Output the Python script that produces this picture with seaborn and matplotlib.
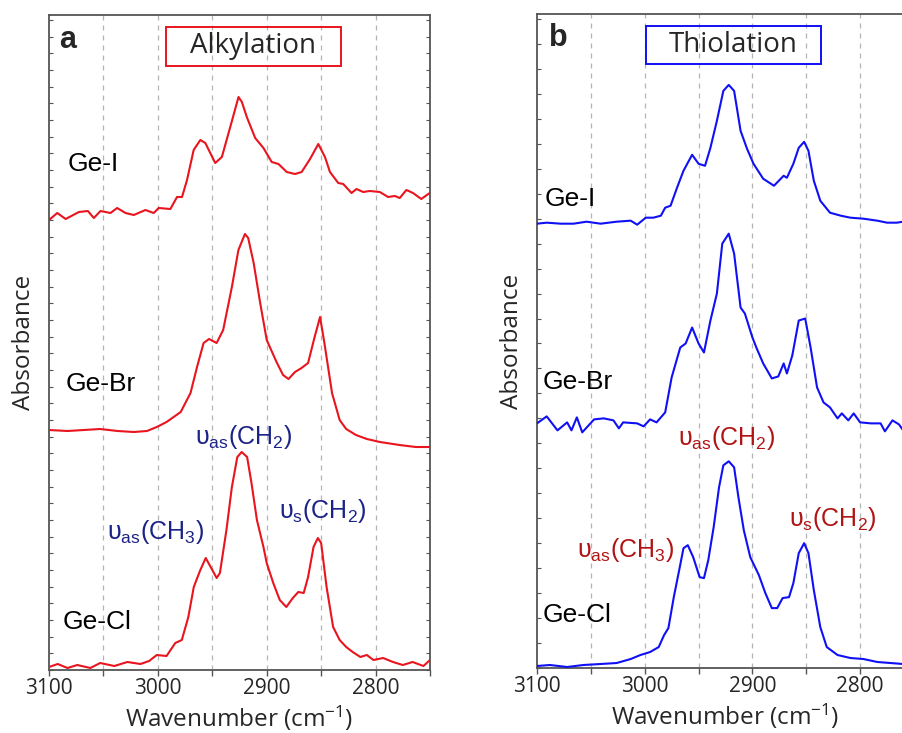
import numpy as np
import pandas as pd
import matplotlib
matplotlib.use("Agg")
import matplotlib.pyplot as plt
from matplotlib.ticker import MultipleLocator, NullFormatter
from matplotlib.patches import Rectangle
import seaborn as sns

# ---------------- data ----------------
# Panel a (alkylation)
a_gei_wn = [3100, 3092.4, 3084.7, 3072.5, 3064.3, 3058.8, 3052.7, 3043.5, 3037.4, 3029.7,
            3022.1, 3011.4, 3003.8, 2999.2, 2988.5, 2982.4, 2977.8, 2973.2, 2967.1, 2961.0,
            2956.4, 2947.3, 2941.2, 2933.5, 2925.9, 2922.8, 2918.3, 2910.6, 2903.0, 2895.4,
            2889.2, 2881.6, 2874.0, 2867.9, 2860.2, 2852.6, 2846.5, 2841.9, 2834.3, 2829.7,
            2822.1, 2817.5, 2811.4, 2805.3, 2796.1, 2788.5, 2782.3, 2777.8, 2771.7, 2765.6,
            2758.0, 2750.3]
a_gei_abs = [4.50, 4.57, 4.51, 4.58, 4.59, 4.52, 4.59, 4.57, 4.62, 4.57,
             4.55, 4.60, 4.57, 4.62, 4.61, 4.73, 4.73, 4.90, 5.20, 5.30,
             5.27, 5.07, 5.13, 5.43, 5.73, 5.68, 5.53, 5.32, 5.22, 5.08,
             5.06, 4.98, 4.96, 4.98, 5.11, 5.26, 5.13, 4.98, 4.87, 4.86,
             4.77, 4.81, 4.78, 4.79, 4.78, 4.73, 4.74, 4.72, 4.80, 4.77,
             4.71, 4.77]

a_gebr_wn = [3100, 3083, 3068, 3053, 3037, 3022, 3010, 3001, 2992, 2979,
             2970, 2964, 2958, 2953, 2946, 2940, 2932, 2926, 2920, 2917,
             2912, 2906, 2900, 2891, 2885, 2880, 2874, 2868, 2862, 2856,
             2851, 2847, 2840, 2833, 2827, 2818, 2808, 2796, 2778, 2763, 2750]
a_gebr_abs = [2.40, 2.39, 2.40, 2.41, 2.39, 2.38, 2.39, 2.43, 2.48, 2.58,
              2.77, 3.03, 3.27, 3.31, 3.27, 3.40, 3.83, 4.20, 4.36, 4.32,
              4.07, 3.67, 3.30, 3.08, 2.95, 2.91, 2.98, 3.02, 3.07, 3.33,
              3.53, 3.27, 2.77, 2.50, 2.41, 2.35, 2.31, 2.28, 2.25, 2.23, 2.23]

a_gecl_wn = [3100, 3092, 3083, 3074, 3062, 3053, 3040, 3028, 3016, 3008,
             3001, 2992, 2984, 2978, 2972, 2967, 2961, 2956, 2950, 2946,
             2943, 2937, 2932, 2927, 2923, 2918, 2914, 2909, 2903, 2900,
             2894, 2888, 2882, 2876, 2871, 2866, 2862, 2857, 2853, 2850,
             2845, 2839, 2833, 2827, 2821, 2814, 2808, 2802, 2793, 2784,
             2775, 2766, 2756, 2750]
a_gecl_abs = [0.03, 0.06, 0.02, 0.05, 0.02, 0.07, 0.04, 0.08, 0.06, 0.09,
              0.15, 0.14, 0.27, 0.30, 0.53, 0.83, 1.00, 1.12, 1.00, 0.92,
              0.97, 1.40, 1.83, 2.13, 2.18, 2.13, 1.87, 1.50, 1.23, 1.07,
              0.87, 0.70, 0.63, 0.72, 0.78, 0.77, 0.93, 1.23, 1.32, 1.27,
              0.83, 0.43, 0.30, 0.23, 0.18, 0.13, 0.15, 0.10, 0.12, 0.08,
              0.05, 0.08, 0.04, 0.10]

# Panel b (thiolation)
b_gei_wn = [3100, 3091, 3078, 3066, 3054, 3041, 3026, 3013, 3007, 2999,
            2992, 2985, 2981, 2976, 2970, 2964, 2956, 2950, 2944, 2939,
            2933, 2927, 2922, 2917, 2911, 2905, 2899, 2890, 2880, 2871,
            2868, 2862, 2857, 2852, 2848, 2843, 2837, 2828, 2818, 2809,
            2797, 2784, 2775, 2766, 2760, 2750]
b_gei_abs = [4.45, 4.46, 4.45, 4.45, 4.47, 4.45, 4.47, 4.48, 4.44, 4.51,
             4.51, 4.53, 4.61, 4.63, 4.81, 4.98, 5.14, 5.05, 5.03, 5.21,
             5.48, 5.78, 5.84, 5.78, 5.38, 5.20, 5.05, 4.90, 4.83, 4.93,
             4.91, 5.05, 5.21, 5.27, 5.18, 4.88, 4.68, 4.56, 4.53, 4.51,
             4.50, 4.48, 4.46, 4.46, 4.47, 4.46]

b_gebr_wn = [3100, 3091, 3081, 3072, 3068, 3063, 3058, 3047, 3038, 3029,
             3024, 3020, 3007, 3001, 2995, 2989, 2981, 2975, 2967, 2962,
             2956, 2950, 2945, 2939, 2933, 2928, 2922, 2917, 2911, 2907,
             2900, 2896, 2890, 2882, 2876, 2871, 2868, 2863, 2857, 2851,
             2846, 2840, 2834, 2828, 2821, 2817, 2811, 2806, 2800, 2790,
             2781, 2777, 2770, 2764, 2760, 2750]
b_gebr_abs = [2.45, 2.52, 2.38, 2.46, 2.38, 2.51, 2.36, 2.49, 2.50, 2.48,
              2.40, 2.46, 2.45, 2.42, 2.49, 2.46, 2.56, 2.91, 3.21, 3.25,
              3.41, 3.25, 3.16, 3.48, 3.75, 4.25, 4.35, 4.15, 3.61, 3.55,
              3.31, 3.20, 3.05, 2.90, 2.92, 3.05, 2.95, 3.13, 3.48, 3.50,
              3.21, 2.81, 2.66, 2.61, 2.50, 2.55, 2.48, 2.55, 2.46, 2.45,
              2.45, 2.37, 2.48, 2.44, 2.38, 2.45]

b_gecl_wn = [3100, 3088, 3072, 3057, 3041, 3026, 3013, 3004, 2995, 2987,
             2982, 2978, 2973, 2968, 2964, 2960, 2955, 2949, 2945, 2941,
             2936, 2931, 2927, 2922, 2917, 2913, 2908, 2902, 2894, 2888,
             2882, 2877, 2872, 2866, 2862, 2857, 2852, 2848, 2843, 2837,
             2831, 2821, 2809, 2797, 2784, 2772, 2760, 2750]
b_gecl_abs = [0.02, 0.03, 0.01, 0.03, 0.04, 0.05, 0.09, 0.13, 0.16, 0.21,
              0.33, 0.40, 0.71, 0.98, 1.20, 1.23, 1.11, 0.91, 0.90, 1.08,
              1.41, 1.81, 2.03, 2.07, 2.01, 1.71, 1.38, 1.11, 0.93, 0.75,
              0.60, 0.60, 0.70, 0.71, 0.85, 1.15, 1.25, 1.15, 0.78, 0.41,
              0.21, 0.13, 0.10, 0.09, 0.06, 0.05, 0.04, 0.04]

sample_names = ["Ge-I", "Ge-Br", "Ge-Cl"]
panel_titles = ["Alkylation", "Thiolation"]
panel_letters = ["a", "b"]
x_ticks = [3100, 3000, 2900, 2800]

# ---------------- style ----------------
sns.set_theme(style="white")
plt.rcParams["font.family"] = ["Open Sans", "DejaVu Sans"]
plt.rcParams["mathtext.fontset"] = "custom"
plt.rcParams["mathtext.rm"] = "Liberation Sans"
plt.rcParams["mathtext.it"] = "Liberation Sans:italic"
plt.rcParams["mathtext.bf"] = "Liberation Sans:bold"

RED = "#e8141e"
BLUE = "#1010f5"
NAVY = "#1c2387"
DARKRED = "#b01414"
SPINE = "#555555"

fig = plt.figure(figsize=(9.03, 7.33), dpi=100)
ax_a = fig.add_axes([49/903, 63/733, 381/903, 655/733])
ax_b = fig.add_axes([537/903, 65/733, 377/903, 654/733])

def frame(ax, ystep):
    ax.set_xlim(3100, 2750)
    ax.set_ylim(0, 6.55)
    ax.set_xticks(x_ticks)
    ax.xaxis.set_minor_locator(MultipleLocator(50))
    ax.yaxis.set_major_locator(MultipleLocator(ystep))
    ax.yaxis.set_major_formatter(NullFormatter())
    ax.tick_params(axis="x", which="both", direction="out", length=4, width=1,
                   color=SPINE, labelsize=15, pad=2, bottom=True)
    ax.tick_params(axis="y", which="both", direction="in", length=3, width=0.8,
                   color=SPINE, left=True, right=True)
    for s in ax.spines.values():
        s.set_color(SPINE)
        s.set_linewidth(1.3)
    ax.grid(False)
    for gx in [3050, 3000, 2950, 2900, 2850, 2800]:
        ax.axvline(gx, color="#b4b4b4", lw=0.9, ls=(0, (4, 4)), zorder=0)
    ax.set_xlabel("Wavenumber (cm$^{\\mathregular{-1}}$)", fontsize=17.5, labelpad=3)
    ax.set_ylabel("Absorbance", fontsize=17.5, labelpad=6)

spectra_a = [(a_gei_wn, a_gei_abs), (a_gebr_wn, a_gebr_abs), (a_gecl_wn, a_gecl_abs)]
spectra_b = [(b_gei_wn, b_gei_abs), (b_gebr_wn, b_gebr_abs), (b_gecl_wn, b_gecl_abs)]

for ax, spectra, col in [(ax_a, spectra_a, RED), (ax_b, spectra_b, BLUE)]:
    for name, (wn, ab) in zip(sample_names, spectra):
        df = pd.DataFrame({"wn": wn, "abs": ab})
        sns.lineplot(data=df, x="wn", y="abs", ax=ax, color=col, lw=1.5,
                     estimator=None, sort=False, zorder=3)

frame(ax_a, 1/6)
frame(ax_b, 0.25)

# sample labels
lab_font = dict(fontsize=19, family="Liberation Sans", color="black", ha="left", va="center")
for ax, pos in [(ax_a, [(3082.5, 5.06), (3084.3, 2.86), (3087.1, 0.48)]),
                (ax_b, [(3092.6, 4.70), (3094.4, 2.86), (3094.4, 0.53)])]:
    for name, (x, y) in zip(sample_names, pos):
        ax.text(x, y, name, **lab_font)

# panel letters
ax_a.text(3090.5, 6.30, panel_letters[0], fontsize=22, fontweight="bold",
          family="Liberation Sans", ha="left", va="center")
ax_b.text(3088.5, 6.31, panel_letters[1], fontsize=22, fontweight="bold",
          family="Liberation Sans", ha="left", va="center")

# boxed titles
ax_a.add_patch(Rectangle((0.307, 0.922), 0.459, 0.0595, transform=ax_a.transAxes,
                         fill=False, ec=RED, lw=1.4, zorder=4))
ax_a.text(0.535, 0.952, panel_titles[0], transform=ax_a.transAxes, fontsize=20,
          ha="center", va="center")
ax_b.add_patch(Rectangle((0.289, 0.9235), 0.464, 0.058, transform=ax_b.transAxes,
                         fill=False, ec=BLUE, lw=1.4, zorder=4))
ax_b.text(0.520, 0.952, panel_titles[1], transform=ax_b.transAxes, fontsize=20,
          ha="center", va="center")

# peak annotations
ann_as_ch2 = "\u03c5$_{\\mathregular{as}}$(CH$_{\\mathregular{2}}$)"
ann_as_ch3 = "\u03c5$_{\\mathregular{as}}$(CH$_{\\mathregular{3}}$)"
ann_s_ch2 = "\u03c5$_{\\mathregular{s}}$(CH$_{\\mathregular{2}}$)"
af = dict(fontsize=18, family="Liberation Sans", ha="center", va="center")
for ax, col, pos in [(ax_a, NAVY, [(2921.3, 2.33), (3002.4, 1.38), (2848.6, 1.59)]),
                     (ax_b, DARKRED, [(2923.6, 2.30), (3017.4, 1.18), (2825.2, 1.49)])]:
    for txt, (x, y) in zip([ann_as_ch2, ann_as_ch3, ann_s_ch2], pos):
        ax.text(x, y, txt, color=col, **af)

fig.savefig("out.png", dpi=100)
